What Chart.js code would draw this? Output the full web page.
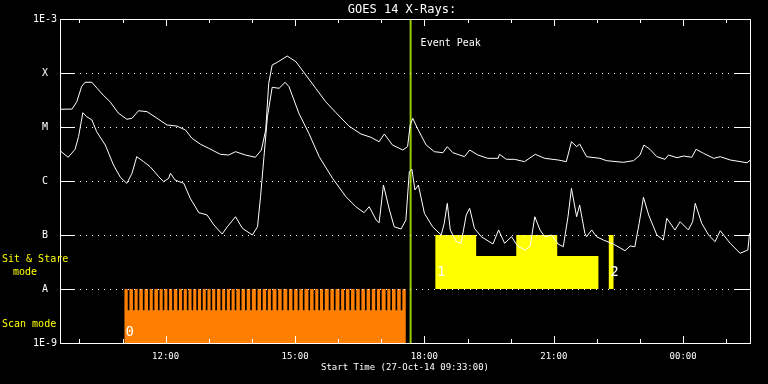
<!DOCTYPE html>
<html>
<head>
<meta charset="utf-8">
<script src="https://cdn.jsdelivr.net/npm/chart.js@4.4.1/dist/chart.umd.min.js"></script>
<style>
    html, body { margin: 0; padding: 0; background: #000; }
    canvas { display: block; }
</style>
</head>
<body>
<canvas id="goesGrafico" width="768" height="384"></canvas>
<script>
// hours of day since start (09:33 on 27-Oct-14), values above 24 are the next day
var longTimes = [9.55, 9.83, 9.94, 10.05, 10.13, 10.29, 10.41, 10.55, 10.71, 10.9, 11.1, 11.22, 11.37, 11.57, 11.8,
    12.03, 12.26, 12.46, 12.61, 12.81, 13.0, 13.27, 13.46, 13.62, 13.85, 14.08, 14.22, 14.32, 14.39, 14.47, 14.59,
    14.82, 15.02, 15.25, 15.48, 15.71, 15.95, 16.25, 16.53, 16.76, 16.95, 17.07, 17.26, 17.5, 17.61, 17.67, 17.73,
    17.85, 18.04, 18.23, 18.43, 18.53, 18.66, 18.93, 19.05, 19.24, 19.47, 19.71, 19.74, 19.9, 20.09, 20.32, 20.57,
    20.79, 21.1, 21.29, 21.41, 21.53, 21.6, 21.76, 22.07, 22.22, 22.61, 22.85, 23.0, 23.09, 23.23, 23.39, 23.58,
    23.66, 23.86, 24.01, 24.2, 24.3, 24.47, 24.71, 24.86, 25.09, 25.48, 25.56];
var longFlux = [2.13e-5, 2.15e-5, 2.94e-5, 5.58e-5, 6.73e-5, 6.73e-5, 5.21e-5, 3.91e-5, 2.94e-5, 1.82e-5, 1.39e-5,
    1.45e-5, 2.0e-5, 1.92e-5, 1.45e-5, 1.09e-5, 1.04e-5, 8.8e-6, 6.18e-6, 4.78e-6, 4.03e-6, 3.12e-6, 3.03e-6, 3.49e-6,
    3.03e-6, 2.75e-6, 3.75e-6, 8.8e-6, 6.45e-5, 1.41e-4, 1.58e-4, 2.06e-4, 1.62e-4, 9.18e-5, 5.21e-5, 2.94e-5, 1.84e-5,
    1.04e-5, 7.41e-6, 6.45e-6, 5.34e-6, 7.41e-6, 4.64e-6, 3.75e-6, 4.32e-6, 1.09e-5, 1.45e-5, 9.06e-6, 4.64e-6, 3.49e-6,
    3.34e-6, 4.32e-6, 3.34e-6, 2.82e-6, 3.75e-6, 3.03e-6, 2.63e-6, 2.63e-6, 3.12e-6, 2.52e-6, 2.52e-6, 2.28e-6, 3.12e-6,
    2.63e-6, 2.45e-6, 2.28e-6, 5.34e-6, 4.32e-6, 4.84e-6, 2.82e-6, 2.63e-6, 2.38e-6, 2.22e-6, 2.38e-6, 3.03e-6, 4.64e-6,
    3.86e-6, 2.82e-6, 2.52e-6, 3.03e-6, 2.7e-6, 2.9e-6, 2.75e-6, 3.86e-6, 3.26e-6, 2.63e-6, 2.82e-6, 2.45e-6, 2.18e-6,
    2.45e-6];

var shortTimes = [9.55, 9.74, 9.9, 9.98, 10.08, 10.17, 10.29, 10.4, 10.6, 10.79, 10.95, 11.1, 11.22, 11.33, 11.49,
    11.64, 11.84, 11.95, 12.07, 12.11, 12.22, 12.42, 12.57, 12.77, 12.96, 13.12, 13.31, 13.43, 13.62, 13.78, 14.01,
    14.13, 14.2, 14.28, 14.36, 14.47, 14.63, 14.77, 14.86, 15.09, 15.32, 15.56, 15.87, 16.18, 16.41, 16.6, 16.72,
    16.88, 16.95, 17.05, 17.19, 17.3, 17.46, 17.57, 17.65, 17.71, 17.78, 17.86, 18.0, 18.19, 18.39, 18.46, 18.53,
    18.6, 18.74, 18.85, 18.97, 19.05, 19.16, 19.32, 19.59, 19.72, 19.86, 20.02, 20.16, 20.33, 20.45, 20.56, 20.68,
    20.79, 20.95, 21.1, 21.22, 21.33, 21.41, 21.53, 21.6, 21.72, 21.76, 21.88, 21.99, 22.15, 22.38, 22.65, 22.77,
    22.88, 22.98, 23.08, 23.2, 23.39, 23.54, 23.62, 23.81, 23.93, 24.12, 24.22, 24.28, 24.43, 24.59, 24.74, 24.86,
    25.09, 25.32, 25.5, 25.54];
var shortFlux = [3.64e-6, 2.75e-6, 3.86e-6, 6.61e-6, 1.84e-5, 1.55e-5, 1.35e-5, 8.18e-6, 4.64e-6, 1.98e-6, 1.17e-6,
    9.06e-7, 1.39e-6, 2.82e-6, 2.28e-6, 1.84e-6, 1.2e-6, 9.7e-7, 1.12e-6, 1.39e-6, 1.04e-6, 9.06e-7, 4.78e-7, 2.59e-7,
    2.35e-7, 1.53e-7, 1.04e-7, 1.42e-7, 2.18e-7, 1.33e-7, 1.0e-7, 1.42e-7, 5.12e-7, 2.82e-6, 1.55e-5, 5.43e-5, 5.21e-5,
    6.73e-5, 5.58e-5, 1.79e-5, 7.64e-6, 2.82e-6, 1.12e-6, 5.12e-7, 3.34e-7, 2.59e-7, 3.34e-7, 1.9e-7, 1.69e-7, 8.43e-7,
    2.9e-7, 1.42e-7, 1.29e-7, 1.9e-7, 1.49e-6, 1.65e-6, 6.81e-7, 8.43e-7, 2.52e-7, 1.42e-7, 1.0e-7, 1.65e-7, 3.86e-7,
    1.24e-7, 7.51e-8, 7.02e-8, 2.35e-7, 3.12e-7, 1.33e-7, 9.3e-8, 6.81e-8, 1.24e-7, 7.02e-8, 9.3e-8, 6.25e-8, 5.27e-8,
    6.07e-8, 2.18e-7, 1.24e-7, 9.3e-8, 1.0e-7, 6.81e-8, 6.07e-8, 2.18e-7, 7.32e-7, 2.18e-7, 3.59e-7, 1.08e-7, 9.3e-8,
    1.24e-7, 9.3e-8, 8.08e-8, 6.81e-8, 5.12e-8, 6.25e-8, 6.07e-8, 1.65e-7, 4.99e-7, 2.35e-7, 1.0e-7, 8.08e-8, 2.04e-7,
    1.24e-7, 1.76e-7, 1.24e-7, 1.76e-7, 3.86e-7, 1.65e-7, 1.0e-7, 7.51e-8, 1.2e-7, 7.02e-8, 4.58e-8, 5.27e-8, 1.08e-7];

var yTickValues = [1e-9, 1e-8, 1e-7, 1e-6, 1e-5, 1e-4, 1e-3];
var yTickLabels = ['1E-9', 'A', 'B', 'C', 'M', 'X', '1E-3'];
var xTickHours = [10, 11, 12, 13, 14, 15, 16, 17, 18, 19, 20, 21, 22, 23, 24, 25];
var xStart = 9.55;
var xEnd = 25.55;

// scan mode raster (0) and its black gaps
var scanTimes = [11.04, 17.57];
var scanTop = [1e-8, 1e-8];
var scanGapTimes = [11.14, 11.26, 11.37, 11.49, 11.61, 11.72, 11.84, 11.95, 12.06, 12.17, 12.29, 12.40, 12.51,
    12.62, 12.73, 12.84, 12.95, 13.06, 13.17, 13.29, 13.40, 13.51, 13.62, 13.74, 13.86, 13.98, 14.11, 14.23, 14.35,
    14.46, 14.59, 14.71, 14.84, 14.96, 15.08, 15.20, 15.33, 15.45, 15.56, 15.67, 15.80, 15.92, 16.05, 16.16, 16.28,
    16.40, 16.52, 16.64, 16.76, 16.88, 16.99, 17.12, 17.23, 17.35, 17.47];
var scanGapRange = [4.1e-9, 1e-8];

// sit & stare rasters (1 and 2)
var sitStareTimes = [18.25, 19.20, 20.13, 21.08, 22.04];
var sitStareTops = [1e-7, 4.1e-8, 1e-7, 4.1e-8, 4.1e-8];
var raster2Times = [22.27, 22.39];
var raster2Tops = [1e-7, 1e-7];

var rasterLabels = ['0', '1', '2'];
var rasterLabelTimes = [11.07, 18.29, 22.31];
var rasterLabelFlux = [1.6e-9, 2.06e-8, 2.06e-8];

var eventPeakTime = 17.68;

window.onload = function() {
    renderizarGraficoGoes();
}

function pontos(xs, ys) {
    return xs.map((x, i) => ({ x: x, y: ys[i] }));
}

function formatarHora(h) {
    var hh = h % 24;
    return (hh < 10 ? '0' : '') + hh + ':00';
}

var molduraPlugin = {
    id: 'moldura',
    afterDatasetsDraw: function(chart) {
        var ctx = chart.ctx;
        var a = chart.chartArea;
        var xs = chart.scales.x;
        var ys = chart.scales.y;
        ctx.save();
        ctx.strokeStyle = '#ffffff';
        ctx.lineWidth = 1;

        // dotted grid and solid ticks on the y axis
        yTickValues.forEach(function(v) {
            var py = Math.round(ys.getPixelForValue(v)) + 0.5;
            if (v === yTickValues[0] || v === yTickValues[yTickValues.length - 1]) return;
            ctx.setLineDash([1, 5]);
            ctx.beginPath();
            ctx.moveTo(a.left + 14, py);
            ctx.lineTo(a.right - 14, py);
            ctx.stroke();
            ctx.setLineDash([]);
            ctx.beginPath();
            ctx.moveTo(a.left, py);
            ctx.lineTo(a.left + 14, py);
            ctx.moveTo(a.right - 15, py);
            ctx.lineTo(a.right, py);
            ctx.stroke();
        });

        // hour ticks, longer every 3 hours
        xTickHours.forEach(function(h) {
            var px = Math.round(xs.getPixelForValue(h)) + 0.5;
            var len = (h % 3 === 0) ? 7 : 4;
            ctx.beginPath();
            ctx.moveTo(px, a.bottom);
            ctx.lineTo(px, a.bottom - len);
            ctx.moveTo(px, a.top);
            ctx.lineTo(px, a.top + len);
            ctx.stroke();
        });

        ctx.strokeRect(a.left + 0.5, a.top + 0.5, a.right - a.left, a.bottom - a.top);

        // texts
        ctx.fillStyle = '#ffffff';
        ctx.textBaseline = 'middle';
        ctx.textAlign = 'center';
        ctx.font = '12px "DejaVu Sans Mono"';
        ctx.fillText('GOES 14 X-Rays:', (a.left + a.right) / 2 - 3, 10);
        ctx.font = '9px "DejaVu Sans Mono"';
        ctx.fillText('Start Time (27-Oct-14 09:33:00)', (a.left + a.right) / 2, 368);

        ctx.textAlign = 'left';
        ctx.font = '10px "DejaVu Sans Mono"';
        ctx.fillText('Event Peak', xs.getPixelForValue(eventPeakTime) + 10, 43);

        ctx.fillStyle = '#ffff00';
        ctx.fillText('Sit & Stare', 2, 259);
        ctx.fillText('mode', 13, 272);
        ctx.fillText('Scan mode', 2, 324);

        ctx.fillStyle = '#ffffff';
        ctx.font = '14px "DejaVu Sans Mono"';
        rasterLabels.forEach(function(txt, i) {
            ctx.fillText(txt, xs.getPixelForValue(rasterLabelTimes[i]), ys.getPixelForValue(rasterLabelFlux[i]));
        });
        ctx.restore();
    }
};

function renderizarGraficoGoes() {
    Chart.defaults.font.family = '"DejaVu Sans Mono"';
    Chart.defaults.color = '#ffffff';

    var ctx = document.getElementById('goesGrafico').getContext('2d');
    window.goesChart = new Chart(ctx, {
        type: 'line',
        data: {
            datasets: [{
                label: 'Long',
                data: pontos(longTimes, longFlux),
                borderColor: '#ffffff',
                borderWidth: 1,
                pointRadius: 0,
                fill: false
            }, {
                label: 'Short',
                data: pontos(shortTimes, shortFlux),
                borderColor: '#ffffff',
                borderWidth: 1,
                pointRadius: 0,
                fill: false
            }, {
                label: 'Event Peak',
                data: pontos([eventPeakTime, eventPeakTime], [yTickValues[0], yTickValues[yTickValues.length - 1]]),
                borderColor: '#99cc00',
                borderWidth: 2,
                pointRadius: 0,
                fill: false
            }, {
                type: 'bar',
                label: 'Scan gaps',
                data: scanGapTimes.map((t) => ({ x: t, y: scanGapRange })),
                backgroundColor: '#000000',
                borderWidth: 0,
                barThickness: 1,
                grouped: false
            }, {
                label: 'Scan mode',
                data: pontos(scanTimes, scanTop),
                borderColor: '#ff8000',
                borderWidth: 0,
                pointRadius: 0,
                backgroundColor: '#ff8000',
                fill: { value: yTickValues[0] }
            }, {
                label: 'Sit & Stare 1',
                data: pontos(sitStareTimes, sitStareTops),
                stepped: true,
                borderColor: '#ffff00',
                borderWidth: 0,
                pointRadius: 0,
                backgroundColor: '#ffff00',
                fill: { value: 1e-8 }
            }, {
                label: 'Sit & Stare 2',
                data: pontos(raster2Times, raster2Tops),
                borderColor: '#ffff00',
                borderWidth: 0,
                pointRadius: 0,
                backgroundColor: '#ffff00',
                fill: { value: 1e-8 }
            }]
        },
        options: {
            responsive: false,
            animation: false,
            layout: {
                padding: { top: 19, right: 18, left: 0, bottom: 0 }
            },
            plugins: {
                legend: { display: false },
                tooltip: { enabled: false }
            },
            scales: {
                x: {
                    type: 'linear',
                    min: xStart,
                    max: xEnd,
                    offset: false,
                    grid: { display: false },
                    border: { display: false },
                    afterFit: function(scale) { scale.height = 41; },
                    afterBuildTicks: function(scale) {
                        scale.ticks = xTickHours.map((h) => ({ value: h }));
                    },
                    ticks: {
                        autoSkip: false,
                        maxRotation: 0,
                        padding: 0,
                        color: '#ffffff',
                        font: { size: 9 },
                        callback: function(v) { return (v % 3 === 0) ? formatarHora(v) : ''; }
                    }
                },
                y: {
                    type: 'logarithmic',
                    min: yTickValues[0],
                    max: yTickValues[yTickValues.length - 1],
                    grid: { display: false, drawTicks: false },
                    border: { display: false },
                    afterFit: function(scale) { scale.width = 60; },
                    afterBuildTicks: function(scale) {
                        scale.ticks = yTickValues.map((v) => ({ value: v }));
                    },
                    ticks: {
                        padding: 3,
                        crossAlign: 'center',
                        color: '#ffffff',
                        font: { size: 10 },
                        callback: function(v) {
                            var i = yTickValues.findIndex((t) => Math.abs(Math.log10(t) - Math.log10(v)) < 1e-6);
                            return i >= 0 ? yTickLabels[i] : '';
                        }
                    }
                }
            }
        },
        plugins: [molduraPlugin]
    });
}
</script>
</body>
</html>
